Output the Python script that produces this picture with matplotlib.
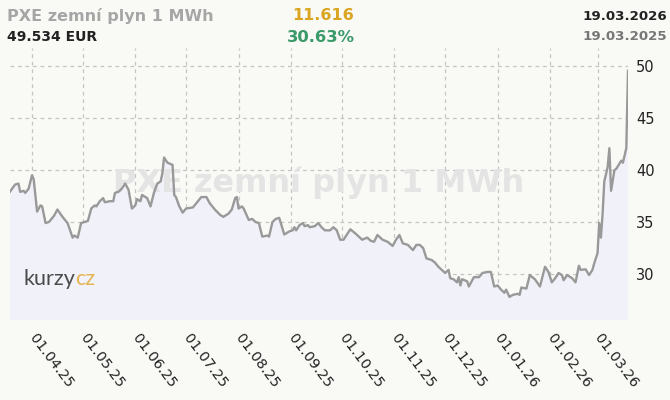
import matplotlib
matplotlib.use("Agg")
import matplotlib.pyplot as plt
import matplotlib.dates as mdates
import pandas as pd

dates = [
    "2025-03-19", "2025-03-22", "2025-03-24", "2025-03-25", "2025-03-27", "2025-03-28", "2025-03-30",
    "2025-04-01", "2025-04-02", "2025-04-04", "2025-04-06", "2025-04-07", "2025-04-09", "2025-04-11",
    "2025-04-14", "2025-04-16", "2025-04-19", "2025-04-22", "2025-04-25", "2025-04-26", "2025-04-28",
    "2025-04-30", "2025-05-02", "2025-05-04", "2025-05-06", "2025-05-08", "2025-05-09", "2025-05-11",
    "2025-05-13", "2025-05-14", "2025-05-17", "2025-05-19", "2025-05-20", "2025-05-22", "2025-05-24",
    "2025-05-26", "2025-05-28", "2025-05-30", "2025-06-01", "2025-06-02", "2025-06-04", "2025-06-05",
    "2025-06-08", "2025-06-10", "2025-06-12", "2025-06-14", "2025-06-16", "2025-06-17", "2025-06-18",
    "2025-06-20", "2025-06-23", "2025-06-24", "2025-06-25", "2025-06-27", "2025-06-29", "2025-07-01",
    "2025-07-05", "2025-07-08", "2025-07-10", "2025-07-13", "2025-07-15", "2025-07-18", "2025-07-21",
    "2025-07-23", "2025-07-26", "2025-07-28", "2025-07-30", "2025-07-31", "2025-08-01", "2025-08-03",
    "2025-08-04", "2025-08-07", "2025-08-09", "2025-08-11", "2025-08-13", "2025-08-15", "2025-08-18",
    "2025-08-19", "2025-08-21", "2025-08-23", "2025-08-25", "2025-08-28", "2025-08-31", "2025-09-02",
    "2025-09-03", "2025-09-04", "2025-09-06", "2025-09-08", "2025-09-09", "2025-09-11", "2025-09-12",
    "2025-09-15", "2025-09-17", "2025-09-19", "2025-09-21", "2025-09-24", "2025-09-26", "2025-09-28",
    "2025-09-30", "2025-10-02", "2025-10-06", "2025-10-09", "2025-10-13", "2025-10-16", "2025-10-18",
    "2025-10-20", "2025-10-22", "2025-10-25", "2025-10-28", "2025-10-31", "2025-11-02", "2025-11-04",
    "2025-11-06", "2025-11-09", "2025-11-12", "2025-11-14", "2025-11-16", "2025-11-18", "2025-11-20",
    "2025-11-23", "2025-11-25", "2025-11-27", "2025-11-29", "2025-12-01", "2025-12-03", "2025-12-04",
    "2025-12-06", "2025-12-08", "2025-12-09", "2025-12-10", "2025-12-11", "2025-12-14", "2025-12-15",
    "2025-12-18", "2025-12-21", "2025-12-23", "2025-12-26", "2025-12-28", "2025-12-30", "2026-01-01",
    "2026-01-03", "2026-01-05", "2026-01-06", "2026-01-08", "2026-01-10", "2026-01-13", "2026-01-14",
    "2026-01-15", "2026-01-18", "2026-01-20", "2026-01-23", "2026-01-26", "2026-01-29", "2026-01-31",
    "2026-02-02", "2026-02-04", "2026-02-06", "2026-02-08", "2026-02-09", "2026-02-11", "2026-02-14",
    "2026-02-16", "2026-02-18", "2026-02-19", "2026-02-22", "2026-02-24", "2026-02-26", "2026-02-27",
    "2026-03-01", "2026-03-02", "2026-03-03", "2026-03-04", "2026-03-05", "2026-03-07", "2026-03-08",
    "2026-03-09", "2026-03-11", "2026-03-12", "2026-03-15", "2026-03-16", "2026-03-18", "2026-03-19",
]
prices = [
    37.92, 38.6, 38.7, 37.9, 38.0, 37.8, 38.2,
    39.5, 39.1, 36.0, 36.6, 36.5, 34.9, 35.0,
    35.6, 36.2, 35.5, 34.9, 33.5, 33.7, 33.5,
    34.9, 35.0, 35.1, 36.3, 36.6, 36.5, 37.0,
    37.3, 36.9, 37.0, 37.0, 37.8, 37.9, 38.2,
    38.7, 38.1, 36.3, 36.6, 37.2, 37.0, 37.6,
    37.3, 36.5, 37.8, 38.7, 38.9, 39.7, 41.2,
    40.7, 40.5, 37.6, 37.4, 36.5, 35.9, 36.3,
    36.4, 37.0, 37.4, 37.4, 36.8, 36.2, 35.7,
    35.5, 35.8, 36.2, 37.3, 37.4, 36.3, 36.5,
    36.3, 35.2, 35.3, 35.0, 34.9, 33.6, 33.7,
    33.6, 35.0, 35.3, 35.4, 33.8, 34.1, 34.2,
    34.5, 34.2, 34.7, 34.9, 34.6, 34.7, 34.5,
    34.6, 34.9, 34.5, 34.2, 34.2, 34.5, 34.2,
    33.3, 33.3, 34.3, 33.9, 33.3, 33.5, 33.2,
    33.1, 33.75, 33.3, 33.1, 32.7, 33.3, 33.75,
    32.95, 32.8, 32.3, 32.8, 32.8, 32.5, 31.5,
    31.35, 31.1, 30.7, 30.4, 30.1, 30.4, 29.6,
    29.5, 29.2, 29.7, 28.9, 29.5, 29.3, 28.8,
    29.7, 29.7, 30.1, 30.2, 30.2, 28.8, 28.9,
    28.5, 28.2, 28.5, 27.8, 28.0, 28.1, 28.0,
    28.7, 28.6, 29.9, 29.5, 28.8, 30.7, 30.2,
    29.2, 29.6, 30.1, 29.9, 29.4, 29.9, 29.6,
    29.2, 30.8, 30.4, 30.45, 29.9, 30.4, 31.0,
    32.0, 34.9, 33.5, 35.8, 38.9, 40.3, 42.1,
    38.0, 40.0, 40.1, 40.9, 40.7, 42.1, 49.534,
]
month_ticks = ["2025-04-01", "2025-05-01", "2025-06-01", "2025-07-01", "2025-08-01", "2025-09-01",
               "2025-10-01", "2025-11-01", "2025-12-01", "2026-01-01", "2026-02-01", "2026-03-01"]
y_ticks = [30, 35, 40, 45, 50]

title = "PXE zemní plyn 1 MWh"
last_value = "49.534 EUR"
change_abs = "11.616"
change_pct = "30.63%"
date_end = "19.03.2026"
date_start = "19.03.2025"

x = pd.to_datetime(dates)
bg = "#f9f9f6"

fig = plt.figure(figsize=(6.7, 4.0), dpi=100, facecolor=bg)
ax = fig.add_axes([10 / 670, 80 / 400, 618 / 670, 272 / 400])
ax.set_facecolor(bg)

ax.fill_between(x, prices, 0, color="#f1f2f9", lw=0, zorder=1)
ax.text(0.5, 0.505, title, transform=ax.transAxes, ha="center", va="center",
        fontsize=23, fontweight="bold", color="#e4e4e4", zorder=2)
ax.plot(x, prices, color="#999999", lw=1.7, zorder=4, solid_joinstyle="round")

logo = ax.text(0.022, 0.13, "kurzy", transform=ax.transAxes, ha="left", va="baseline",
               fontsize=15.5, color="#4a4a4a", family="Lato", zorder=3)
ax.annotate("cz", xy=(1, 0), xycoords=logo, xytext=(0, 0), textcoords="offset points",
            ha="left", va="bottom", fontsize=15.5, color="#e6b450", family="Lato", zorder=3)

ax.set_xlim(pd.Timestamp("2025-03-19"), pd.Timestamp("2026-03-19"))
ax.set_ylim(25.58, 51.73)
ax.set_yticks(y_ticks)
ax.set_xticks(pd.to_datetime(month_ticks))
ax.xaxis.set_major_formatter(mdates.DateFormatter("%d.%m.%y"))
ax.yaxis.tick_right()
ax.tick_params(axis="y", length=0, pad=5.8, labelsize=10.5, labelcolor="#222222")
ax.tick_params(axis="x", length=0, pad=11, labelsize=10.3, labelcolor="#222222")
for lbl in ax.get_xticklabels():
    lbl.set_rotation(-53)
    lbl.set_ha("left")
    lbl.set_va("center")
    lbl.set_rotation_mode("anchor")
ax.grid(True, color="#c4c4c4", lw=0.9, linestyle=(0, (3, 3)), zorder=0)
ax.set_axisbelow(True)
for s in ax.spines.values():
    s.set_visible(False)

fig.text(7 / 670, 1 - 16 / 400, title, ha="left", va="center", fontsize=11.5,
         fontweight="bold", color="#a6a6a6")
fig.text(7 / 670, 1 - 37 / 400, last_value, ha="left", va="center", fontsize=10,
         fontweight="bold", color="#222222")
fig.text(323 / 670, 1 - 16 / 400, change_abs, ha="center", va="center", fontsize=11.5,
         fontweight="bold", color="#daa520")
fig.text(321 / 670, 1 - 37 / 400, change_pct, ha="center", va="center", fontsize=11.8,
         fontweight="bold", color="#3a9a6a")
fig.text(667 / 670, 1 - 16 / 400, date_end, ha="right", va="center", fontsize=9.6,
         fontweight="bold", color="#222222")
fig.text(667 / 670, 1 - 37 / 400, date_start, ha="right", va="center", fontsize=9.6,
         fontweight="bold", color="#777777")

fig.savefig("out.png", dpi=100, facecolor=bg)
